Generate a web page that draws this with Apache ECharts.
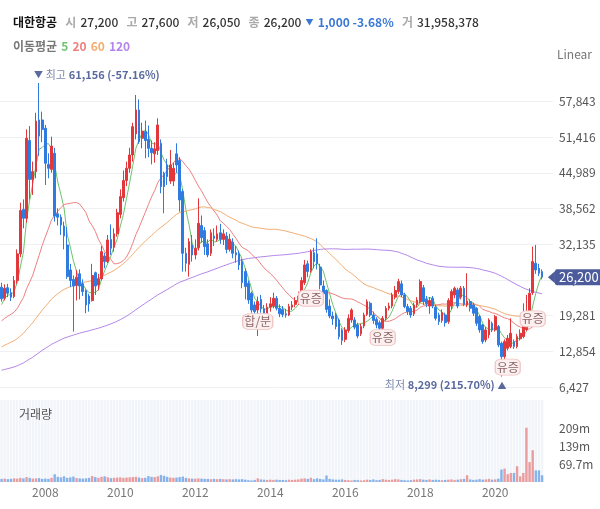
<!DOCTYPE html>
<html><head><meta charset="utf-8">
<script src="https://cdn.jsdelivr.net/npm/echarts@6/dist/echarts.min.js"></script>
<style>html,body{margin:0;padding:0;background:#fff}#c{width:600px;height:509px}</style>
</head><body><div id="c"></div>
<script>
const FONT = '"Noto Sans CJK KR","Noto Sans",sans-serif';

// ---- categories: monthly, Nov 2006 .. (3 empty months after last candle)
const startYear = 2006, startMonth = 11, monthCount = 177;
const months = [];
for (let k = 0; k < monthCount; k++) {
  const m = startMonth - 1 + k;
  const y = startYear + Math.floor(m / 12);
  months.push(y + '-' + String(m % 12 + 1).padStart(2, '0'));
}

// ---- monthly closes before the visible window (Nov 1996 .. Oct 2006), used only for moving averages
const historyClose = [6800,6400,
 6200,6000,6300,6100,5800,6000,5700,5300,5000,4500,3800,3200,
 3600,4100,3700,3300,2900,2600,2800,2700,3100,3800,4500,4300,
 4800,4600,5200,6400,6900,7800,8600,8100,7400,6800,6500,7000,
 7300,6800,6200,6600,6000,5600,5800,5400,5000,4700,4400,4600,
 5000,5300,5100,4800,5400,5700,5300,5000,3800,4200,4900,5600,
 6500,7200,8400,9600,9000,8200,8800,8100,7300,7600,8300,7900,
 7500,7000,6800,8200,9400,10500,11200,12000,11600,12800,13500,13200,
 14200,14800,15600,15000,13800,14400,13600,14000,14900,15500,15200,15800,
 16200,16800,16000,14800,15400,16200,17800,17200,18200,17600,19000,20200,
 19600,18400,17200,16800,15600,16000,18500,20500,22000,23000];

// ---- visible monthly candles (Nov 2006 .. Apr 2021)
const openP = [24400,22400,24300,23400,22700,25600,30400,38400,36800,50800,43800,45200,54500,54500,
 53000,46500,45600,48500,37600,37000,35400,32000,27500,25800,24700,26800,
 25000,23800,22800,22000,27000,24800,25900,30000,29000,33000,31600,34000,
 37500,40500,43600,45800,48200,52000,56300,51200,52400,51000,49400,48400,
 49000,50300,44900,46400,43500,43500,48400,47200,41600,30500,28500,32000,
 30200,31500,35500,34600,32200,30500,33600,33000,34200,33000,33600,31200,
 32500,30600,30400,29000,27200,25100,23300,21200,20300,22200,20500,19500,
 20800,21000,22400,20600,20400,19600,19400,20800,21300,21800,23000,25200,
 28600,27400,30600,30400,28000,24600,23800,21000,19200,19400,18500,16700,
 15000,16600,18500,18500,17600,16000,17400,19500,21500,19400,18600,18000,
 17000,18800,20600,21000,22600,23600,25000,23000,20900,20600,19600,21200,
 21800,24300,22200,21000,22400,20800,19400,18400,19400,18200,21000,23000,
 23900,22600,24200,21200,21800,21200,20600,19100,17600,14900,15800,17900,16700,
 17300,14300,11900,13400,13700,14600,13700,15100,15500,16800,19800,23400,28700,27800,27200];
const closeP = [22300,24200,23300,22600,25600,30400,38200,36800,51200,43800,45200,54300,51600,52800,
 46700,45800,49800,37200,37000,35600,33600,26300,25600,24600,26200,24600,
 23600,21200,21400,26500,24600,25900,30800,29000,32900,31400,34000,37800,
 40700,43600,45800,48200,53300,56300,50600,52500,50800,49400,48600,49300,
 53600,42500,42500,44300,46400,45800,46400,40100,30500,28700,32600,30200,
 31400,35900,33300,31700,30200,34200,33200,34000,33000,34000,31200,33000,
 30500,30200,28400,25200,24500,22100,20300,20000,21800,20500,19500,20800,
 21400,22400,20600,19600,19500,19400,20900,21200,22000,22800,25600,28400,
 27200,30800,29000,28600,24800,23200,20400,19200,18700,17300,15500,14800,
 16700,18800,20300,17200,15600,17300,19400,21800,19400,18400,17600,17000,
 18800,20600,21000,23000,23800,25400,23000,20900,20000,19400,21200,22100,
 25400,21800,21400,22000,21000,18800,18200,19800,18000,22000,23600,24200,
 21000,24200,21300,21900,20600,19700,17900,16700,14600,16700,18500,16700,19100,
 14000,11900,14600,15200,16100,13700,15500,16100,17300,19400,23300,29000,27500,26900,26200];
const highP = [25200,24900,25000,24200,26400,31200,39600,40200,52800,53400,47000,55800,61156,56000,
 53600,48500,51500,49500,38600,37500,36200,35200,28600,26500,27500,27600,
 25800,24000,23200,28600,27200,26800,31800,30600,33800,35700,35000,38500,
 42000,45400,47000,49500,54000,59000,58200,54000,54400,53500,50800,50500,
 54800,51000,45200,47500,49100,46800,50300,47800,42000,31500,33200,33800,
 33000,40400,37300,35200,33000,34800,35000,35500,35800,34800,34300,34000,
 33200,31800,31000,29500,27800,25600,23600,21800,22700,23000,21200,21500,
 22600,23400,22800,21300,21000,20500,21400,21900,22600,23600,26200,29300,
 29200,31200,31500,33200,28600,25600,24000,22200,20000,19800,18800,17000,
 17200,19500,20600,19000,18000,17800,19800,22200,21800,20000,19000,18400,
 19200,21000,21600,23400,24600,25900,25600,23400,21400,21000,21600,22600,
 25800,24800,22800,22600,22800,21200,19800,20400,19800,22400,24000,24500,
 24300,24600,24600,26900,22200,21600,20800,19400,17800,17200,18800,18200,19400,
 17600,14600,15000,15800,18800,15000,16000,16800,21500,23000,24200,31700,32000,28600,27600];
const lowP = [21800,22000,22600,21900,22400,25000,29800,35000,36000,40200,41000,44000,48000,50500,
 42800,44000,45000,36200,35500,33800,31200,25900,24400,16400,22000,22200,
 22800,19700,20000,21800,23000,23800,25600,27800,28700,30200,30800,33500,
 36800,39800,42600,45000,47000,51000,50200,49400,47600,47800,46500,46800,
 48200,41300,37700,42800,43000,42600,45000,38000,27200,27200,26300,29000,
 29400,31000,32400,30200,29800,30000,31800,32600,32200,32000,30500,30800,
 29600,28800,27500,24200,22200,21400,19800,19200,15600,19800,18800,19000,
 20000,20600,20200,19000,19000,18900,19200,20300,20800,21200,22600,24800,
 26200,27000,27800,27600,24000,22400,19800,18800,17600,16800,15000,14000,
 14500,16200,18000,16800,15200,15600,17000,19200,19000,17800,17000,16500,
 16600,18400,20200,20600,22200,23200,22600,20600,19400,18900,19200,20800,
 21500,21200,20800,19600,20600,18400,17600,18000,17300,17800,20400,22400,
 20600,22200,21000,20800,20000,19200,17400,16200,14200,14500,15200,16300,16400,
 13600,8299,11400,13000,13400,13300,13400,14800,15200,16500,19400,23000,26800,26400,25800];
// volume in millions of shares
const volumeM = [12,13,11,12,14,13,16,14,19,16,13,14,15,12,
 13,12,16,30,20,18,22,16,18,21,15,14,
 13,14,16,23,19,16,20,22,18,15,16,17,
 18,16,17,18,19,20,17,15,16,23,20,19,
 22,27,24,20,17,16,17,19,21,16,14,13,
 13,14,13,12,12,11,12,11,12,11,10,11,
 10,11,10,11,9,7,6,8,14,10,9,8,
 9,8,9,8,8,7,9,8,9,10,13,14,
 12,16,11,14,12,10,25,12,10,9,9,10,
 8,7,6,8,7,6,7,9,8,10,7,8,
 11,9,8,9,11,10,8,7,6,7,9,10,
 11,9,8,10,8,9,8,7,8,9,10,8,
 9,11,12,26,10,8,9,11,9,10,12,9,10,
 13,48,52,30,35,35,61,22,35,210,77,123,45,45,26];

// ---- header quote
const stockName = '대한항공';
const quote = { open: '27,200', high: '27,600', low: '26,050', close: '26,200', change: '1,000', rate: '-3.68%', volume: '31,958,378' };
const maPeriods = [5, 20, 60, 120];
const maColors = ['#6cc46c', '#ee8080', '#f2ae72', '#b486ea'];

// ---- price axis ticks
const priceMin = 0, priceMax = 64270, priceStep = 6427;
// ---- volume axis ticks (shares)
const volStep = 69.7e6, volMax = 317.5e6;

// ---- annotations
const highMark = { month: '2007-11', value: 61156, text: '61,156 (-57.16%)' };
const lowMark = { month: '2020-03', value: 8299, text: '8,299 (215.70%)' };
const events = [
  { month: '2013-09', label: '합/분', price: 18200 },
  { month: '2015-02', label: '유증', price: 22400 },
  { month: '2017-01', label: '유증', price: 15300 },
  { month: '2020-05', label: '유증', price: 10000 },
  { month: '2021-01', label: '유증', price: 18700 }
];

const UP = '#e2383c', DOWN = '#2f7bdf';
const histLen = historyClose.length;
const allClose = historyClose.concat(closeP);
function movingAvg(p) {
  return closeP.map((_, i) => {
    const end = histLen + i; let s = 0;
    for (let k = end - p + 1; k <= end; k++) s += allClose[k];
    return Math.round(s / p);
  });
}
const candleData = closeP.map((c, i) => [openP[i], c, lowP[i], highP[i]]);
const volData = volumeM.map((v, i) => ({
  value: v * 1e6,
  itemStyle: { color: closeP[i] >= openP[i] ? 'rgba(226,70,70,0.5)' : 'rgba(47,123,223,0.55)' }
}));
const lastClose = closeP[closeP.length - 1];
const fmt = v => Math.round(v).toLocaleString('en-US');

const eventPoints = events.map(e => ({
  coord: [e.month, e.price],
  symbol: 'roundRect',
  symbolSize: [e.label.length > 2 ? 30 : 25, 16],
  itemStyle: { color: '#fcefef', borderColor: '#efc4c4', borderWidth: 1 },
  label: { show: true, formatter: e.label, color: '#8c6666', fontSize: 12, fontFamily: FONT }
}));

const chart = echarts.init(document.getElementById('c'), null, { renderer: 'canvas' });
chart.setOption({
  animation: false,
  backgroundColor: '#fff',
  textStyle: { fontFamily: FONT },
  title: [
    {
      left: 8, top: 8,
      text: '{n|' + stockName + '}  {k|시} {v|' + quote.open + '}  {k|고} {v|' + quote.high + '}  {k|저} {v|' + quote.low +
        '}  {k|종} {v|' + quote.close + '} {t|▼} {d|' + quote.change + ' ' + quote.rate + '}  {k|거} {v|' + quote.volume + '}',
      textStyle: {
        rich: {
          n: { fontSize: 12, fontWeight: 'bold', color: '#111', fontFamily: FONT },
          k: { fontSize: 12, color: '#aaa', fontFamily: FONT },
          v: { fontSize: 12, color: '#333', fontWeight: 500, fontFamily: FONT },
          t: { fontSize: 8, color: '#3a78d6', fontFamily: FONT },
          d: { fontSize: 12, color: '#3a78d6', fontFamily: FONT }
        }
      }
    },
    {
      left: 8, top: 32,
      text: '{k|이동평균} {a|' + maPeriods[0] + '} {b|' + maPeriods[1] + '} {c|' + maPeriods[2] + '} {d|' + maPeriods[3] + '}',
      textStyle: {
        rich: {
          k: { fontSize: 12, color: '#777', fontFamily: FONT },
          a: { fontSize: 12, color: maColors[0], fontFamily: FONT },
          b: { fontSize: 12, color: maColors[1], fontFamily: FONT },
          c: { fontSize: 12, color: maColors[2], fontFamily: FONT },
          d: { fontSize: 12, color: maColors[3], fontFamily: FONT }
        }
      }
    },
    { right: 3, top: 43, text: 'Linear', textStyle: { fontSize: 12, color: '#777', fontWeight: 'normal', fontFamily: FONT } },
    { left: 14, top: 403, text: '거래량', textStyle: { fontSize: 12, color: '#555', fontWeight: 'normal', fontFamily: FONT } }
  ],
  grid: [
    { left: 0, right: 47, top: 65.7, height: 357 },
    { left: 0, right: 47, top: 400, height: 82 }
  ],
  xAxis: [
    { type: 'category', gridIndex: 0, data: months, boundaryGap: true, show: false },
    {
      type: 'category', gridIndex: 1, data: months, boundaryGap: true,
      axisLine: { show: false }, axisTick: { show: false },
      axisLabel: {
        color: '#777', fontSize: 12, margin: 4, fontFamily: FONT,
        interval: (idx, val) => val.endsWith('-01') && (+val.slice(0, 4)) % 2 === 0,
        formatter: val => val.slice(0, 4)
      },
      splitLine: { show: false }
    }
  ],
  yAxis: [
    {
      type: 'value', gridIndex: 0, position: 'right', min: priceMin, max: priceMax, interval: priceStep,
      axisLine: { show: false }, axisTick: { show: false },
      axisLabel: { color: '#555', fontSize: 12, margin: 6, fontFamily: FONT, showMinLabel: false, showMaxLabel: false, formatter: fmt },
      splitLine: { show: true, showMinLine: false, showMaxLine: false, lineStyle: { color: '#eef0f3', width: 1 } }
    },
    {
      type: 'value', gridIndex: 1, position: 'right', min: 0, max: volMax, interval: volStep,
      axisLine: { show: false }, axisTick: { show: false },
      axisLabel: {
        color: '#555', fontSize: 12, margin: 6, fontFamily: FONT,
        formatter: v => (v <= 0 || v > 250e6) ? '' : (v / 1e6).toPrecision(3) + 'm'
      },
      splitLine: { show: false }
    }
  ],
  series: [
    ...maPeriods.map((p, k) => ({
      name: 'MA' + p, type: 'line', xAxisIndex: 0, yAxisIndex: 0, data: movingAvg(p),
      showSymbol: false, smooth: false, z: 2,
      lineStyle: { color: maColors[k], width: 1 }
    })),
    {
      name: stockName, type: 'candlestick', xAxisIndex: 0, yAxisIndex: 0, data: candleData, z: 3,
      barWidth: 2.2, clip: false,
      itemStyle: { color: UP, color0: DOWN, borderColor: UP, borderColor0: DOWN, borderWidth: 1 },
      markLine: {
        silent: true, symbol: ['none', 'none'], z: 10,
        lineStyle: { color: 'rgba(0,0,0,0)', width: 1, type: 'solid' },
        data: [{ yAxis: lastClose }],
        label: {
          show: true, position: 'end', distance: 2, formatter: fmt(lastClose),
          color: '#fff', fontSize: 13, fontFamily: FONT, backgroundColor: '#4b5b9b',
          padding: [2, 6, 1, 4], borderRadius: 2
        }
      },
      markPoint: {
        silent: true,
        data: [
          {
            coord: [months[months.length - 1], lastClose], symbol: 'triangle', symbolRotate: 90, symbolSize: [12, 7],
            itemStyle: { color: '#4b5b9b' }, label: { show: false }
          },
          {
            coord: [highMark.month, highMark.value], symbol: 'circle', symbolSize: 1, itemStyle: { color: 'rgba(0,0,0,0)' },
            label: {
              show: true, position: 'top', distance: 2, align: 'left', offset: [-5, 0],
              formatter: '{t|▼} {k|최고} {v|' + highMark.text + '}',
              rich: {
                t: { fontSize: 9, color: '#5a6a9e' },
                k: { fontSize: 11, color: '#7d89ad', fontFamily: FONT },
                v: { fontSize: 11, color: '#5a6a9e', fontWeight: 'bold', fontFamily: FONT }
              }
            }
          },
          {
            coord: [lowMark.month, lowMark.value], symbol: 'circle', symbolSize: 1, itemStyle: { color: 'rgba(0,0,0,0)' },
            label: {
              show: true, position: 'bottom', distance: 2, align: 'right', offset: [5, 0],
              formatter: '{k|최저} {v|' + lowMark.text + '} {t|▲}',
              rich: {
                t: { fontSize: 9, color: '#5a6a9e' },
                k: { fontSize: 11, color: '#7d89ad', fontFamily: FONT },
                v: { fontSize: 11, color: '#5a6a9e', fontWeight: 'bold', fontFamily: FONT }
              }
            }
          },
          ...eventPoints
        ]
      }
    },
    {
      name: '거래량', type: 'bar', xAxisIndex: 1, yAxisIndex: 1, data: volData,
      barCategoryGap: '22%', showBackground: true,
      backgroundStyle: { color: '#f1f4f9' }
    }
  ]
});
</script>
</body></html>
